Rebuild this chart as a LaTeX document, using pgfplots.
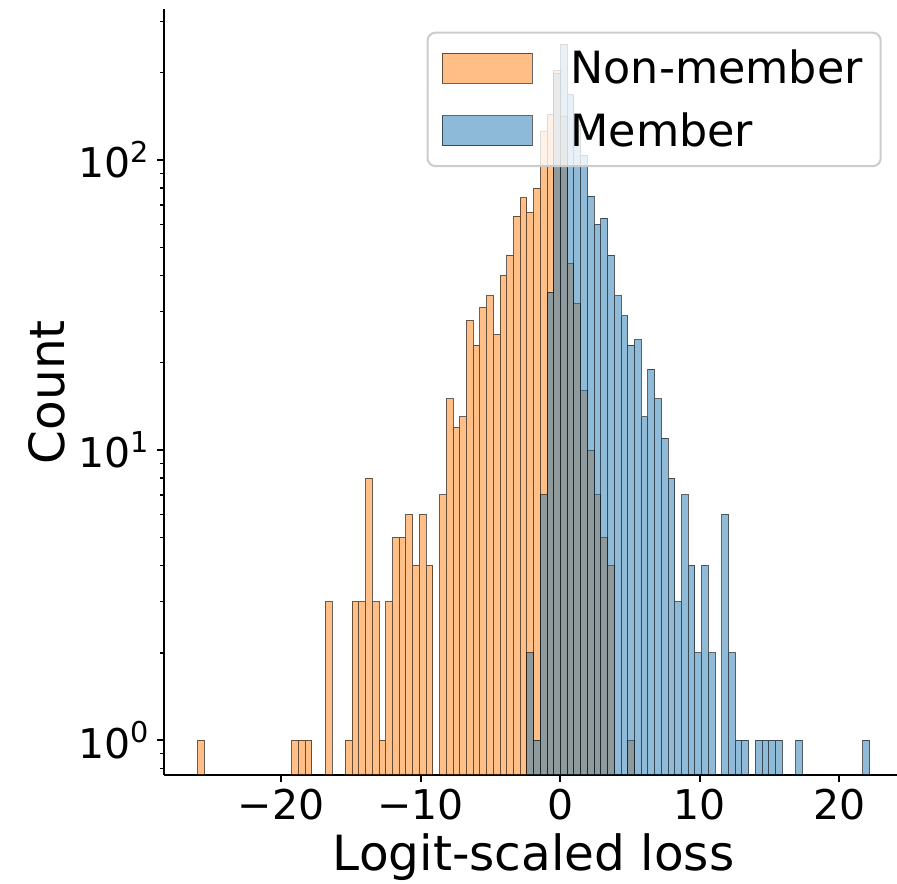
\documentclass[border=0pt]{standalone}
\usepackage{fontspec}
\setmainfont{DejaVu Sans}
\usepackage{pgfplots}
\pgfplotsset{compat=1.18}

\definecolor{orng}{HTML}{FF7F0E}
\definecolor{blu}{HTML}{1F77B4}
\definecolor{framegray}{HTML}{CCCCCC}

\begin{document}
\begin{tikzpicture}
\begin{axis}[
  scale only axis,
  width=369.6pt, height=382.8pt,
  ymode=log, log origin=infty,
  xmin=-28.4, xmax=24.59, ymin=0.759, ymax=331,
  axis lines*=left,
  axis line style={line width=1pt},
  tick align=outside,
  major tick length=3.5pt, minor tick length=2pt,
  major tick style={black, line width=1pt},
  minor tick style={black, line width=0.7pt},
  xtick={-20,-10,0,10,20},
  xticklabels={−20,−10,0,10,20},
  ytick={1,10,100},
  yticklabels={10\textsuperscript{0},10\textsuperscript{1},10\textsuperscript{2}},
  minor ytick={0.8,0.9,2,3,4,5,6,7,8,9,20,30,40,50,60,70,80,90,200,300},
  ticklabel style={font=\fontsize{20.5}{24}\selectfont},
  xlabel={Logit-scaled loss},
  ylabel={Count},
  label style={font=\fontsize{24.25}{29}\selectfont},
  legend style={at={(1,1)}, anchor=north east, xshift=-10.8pt, yshift=-11.25pt,
    draw=framegray, line width=1pt, rounded corners=4pt,
    fill=white, fill opacity=0.8, text opacity=1,
    font=\fontsize{22.2}{27}\selectfont,
    inner xsep=7pt, inner ysep=6.5pt, row sep=9pt, column sep=17pt,
    nodes={inner sep=2pt}},
  legend cell align=left,
  legend image code/.code={\draw[#1, sharp corners, draw=black, draw opacity=0.6, line width=0.5pt] (0pt,-7.5pt) rectangle (45pt,7.5pt);},
]
% Non-member
\addplot[ybar, bar width=0.4817, bar shift=0pt, fill=orng, fill opacity=0.5,
  draw=black, draw opacity=0.6, line width=0.5pt] coordinates {
(-25.749,1) (-19.005,1) (-18.523,1) (-18.042,1) (-16.597,3) (-15.152,1)
(-14.670,3) (-14.188,3) (-13.707,8) (-13.225,3) (-12.743,1) (-12.262,3)
(-11.780,5) (-11.298,5) (-10.816,6) (-10.335,4) (-9.853,6) (-9.371,4)
(-8.408,7) (-7.926,15) (-7.444,12) (-6.963,13) (-6.481,28) (-5.999,23)
(-5.518,31) (-5.036,34) (-4.554,25) (-4.073,40) (-3.591,47) (-3.109,64)
(-2.627,74) (-2.146,66) (-1.664,80) (-1.182,125) (-0.701,144) (-0.219,204)
(0.263,141) (0.745,44) (1.226,32) (1.708,16) (2.190,10) (2.671,7)
(3.153,5) (3.635,4) (5.080,1)
};
\addlegendentry{Non-member}
% Member
\addplot[ybar, bar width=0.4817, bar shift=0pt, fill=blu, fill opacity=0.5,
  draw=black, draw opacity=0.6, line width=0.5pt] coordinates {
(-2.146,2) (-1.664,1) (-1.182,7) (-0.701,35) (-0.219,198) (0.263,251)
(0.745,168) (1.226,132) (1.708,104) (2.190,75) (2.671,60) (3.153,63)
(3.635,47) (4.116,34) (4.598,29) (5.080,23) (5.562,24) (6.043,13)
(6.525,19) (7.007,15) (7.488,11) (7.970,8) (8.452,3) (8.933,7)
(9.415,4) (9.897,2) (10.379,4) (10.860,2) (11.824,6) (12.305,2)
(12.787,1) (13.269,1) (14.232,1) (14.714,1) (15.195,1) (15.677,1)
(17.122,1) (21.939,1)
};
\addlegendentry{Member}
\end{axis}
\pgfresetboundingbox
\path[use as bounding box] ([xshift=-82pt,yshift=-54.1pt]current axis.south west)
  rectangle ([xshift=-3.15pt,yshift=4.6pt]current axis.north east);
\end{tikzpicture}
\end{document}
